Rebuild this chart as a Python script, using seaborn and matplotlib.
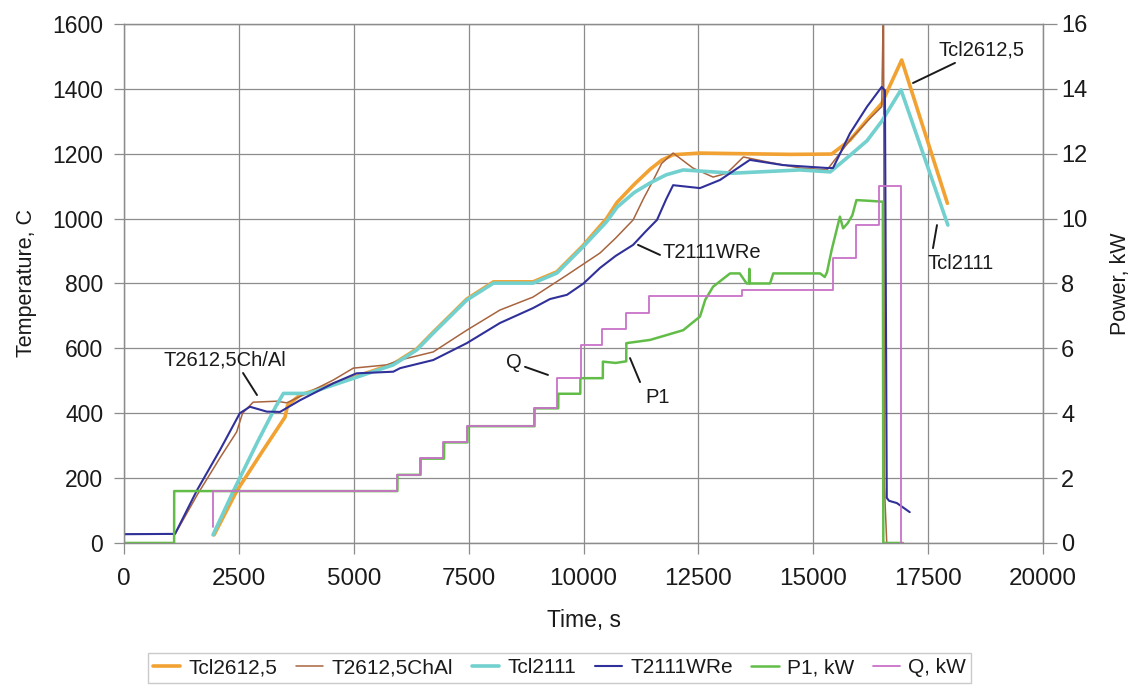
import matplotlib
matplotlib.use("Agg")
import matplotlib.pyplot as plt
import seaborn as sns

# ---- temperature series, time in s, temperature in C ----
t_tcl2612 = [1960, 2452, 3000, 3504, 3560, 3830, 4200, 5000, 5860, 6370, 6730, 7460, 8040,
             8900, 9420, 9990, 10500, 10730, 11100, 11450, 11700, 11950, 12535, 13500,
             14500, 15400, 15800, 16170, 16490, 16925, 17920]
T_tcl2612 = [25, 160, 280, 388, 425, 456, 473, 511, 552, 598, 650, 752, 805,
             805, 836, 917, 1000, 1050, 1105, 1152, 1180, 1197, 1202, 1200,
             1198, 1199, 1242, 1304, 1355, 1489, 1047]

t_t2612chal = [0, 1110, 1600, 2100, 2450, 2580, 2810, 3320, 3540, 3970, 4550, 4990, 5720,
               6006, 6730, 7460, 8180, 8900, 9640, 10000, 10360, 10700, 11080, 11300,
               11520, 11700, 11950, 12380, 12820, 13120, 13480, 13990, 14710, 15300,
               15800, 16240, 16490, 16530, 16548, 16600]
T_t2612chal = [27, 27, 150, 265, 342, 400, 434, 437, 432, 461, 502, 539, 549,
               564, 589, 656, 718, 758, 826, 860, 894, 940, 996, 1060,
               1119, 1170, 1202, 1156, 1128, 1140, 1190, 1175, 1156, 1150,
               1242, 1310, 1345, 1700, 175, 0]

t_tcl2111 = [1937, 2380, 2900, 3300, 3468, 3975, 4200, 5000, 5860, 6370, 6730, 7460, 8040,
             8900, 9420, 9990, 10500, 10730, 11100, 11450, 11800, 12170, 13250, 14710,
             15370, 15800, 16170, 16490, 16910, 17930]
T_tcl2111 = [25, 160, 310, 420, 461, 461, 470, 508, 549, 595, 647, 749, 801,
             801, 832, 913, 990, 1035, 1080, 1110, 1135, 1150, 1140, 1150,
             1144, 1195, 1240, 1300, 1397, 980]

t_t2111wre = [0, 1110, 1590, 2090, 2520, 2740, 3105, 3395, 3830, 4550, 5060, 5860, 6010,
              6730, 7460, 8180, 8900, 9270, 9640, 10000, 10360, 10700, 11080, 11350,
              11600, 11800, 11950, 12535, 12970, 13620, 14340, 15300, 15430, 15800,
              16170, 16490, 16560, 16600, 16650, 16820, 16950, 17100]
T_t2111wre = [27, 28, 163, 287, 400, 420, 405, 404, 440, 492, 523, 528, 539,
              564, 616, 678, 724, 752, 765, 800, 848, 885, 919, 960,
              996, 1060, 1103, 1094, 1119, 1181, 1165, 1156, 1156, 1263,
              1345, 1406, 1395, 139, 130, 123, 110, 95]

# ---- power series, kW ----
t_p1 = [0, 1090, 1092, 5950, 5952, 6455, 6457, 6965, 6967, 7475, 7477, 8935, 8937,
        9450, 9452, 9930, 9932, 10420, 10422, 10700, 10930, 10932, 11450, 12170,
        12535, 12650, 12820, 13000, 13190, 13400, 13550, 13600, 13610, 13620, 14060,
        14130, 15150, 15250, 15300, 15400, 15500, 15580, 15650, 15750, 15850, 15940,
        16200, 16515, 16525, 16950]
p1 = [0, 0, 1.6, 1.6, 2.1, 2.1, 2.6, 2.6, 3.1, 3.1, 3.6, 3.6, 4.15,
      4.15, 4.6, 4.6, 5.08, 5.08, 5.59, 5.55, 5.6, 6.16, 6.26, 6.56,
      6.98, 7.5, 7.9, 8.1, 8.31, 8.31, 8.0, 8.0, 8.45, 8.0, 8.0,
      8.31, 8.31, 8.2, 8.35, 9.03, 9.6, 10.06, 9.7, 9.86, 10.1, 10.57,
      10.55, 10.52, 0, 0]

t_q = [1930, 1935, 5935, 6440, 6950, 7460, 8920, 9430, 9950, 10410, 10920, 11430,
       13440, 15420, 15930, 16440, 16920, 16960]
q = [0.5, 1.6, 2.1, 2.62, 3.12, 3.62, 4.15, 5.08, 6.1, 6.6, 7.1, 7.6,
     7.8, 8.8, 9.8, 11.0, 0, 0]

x_ticks = [0, 2500, 5000, 7500, 10000, 12500, 15000, 17500, 20000]
temp_ticks = [0, 200, 400, 600, 800, 1000, 1200, 1400, 1600]
power_ticks = [0, 2, 4, 6, 8, 10, 12, 14, 16]

sns.set_theme(style="whitegrid")
plt.rcParams["font.family"] = ["Liberation Sans", "DejaVu Sans"]
plt.rcParams["text.color"] = "#1a1a1a"
plt.rcParams["axes.labelcolor"] = "#1a1a1a"
plt.rcParams["xtick.color"] = "#1a1a1a"
plt.rcParams["ytick.color"] = "#1a1a1a"

GRID = "#8c8c8c"
fig, ax = plt.subplots(figsize=(11.42, 6.93), dpi=100)
fig.subplots_adjust(left=0.1086, right=0.9133, top=0.9654, bottom=0.2165)

c_orange = "#F2A232"
c_brown = "#A8643E"
c_cyan = "#72D1CF"
c_blue = "#30309A"
c_green = "#62BD48"
c_purple = "#C872C8"

common = dict(estimator=None, sort=False, legend=False)
sns.lineplot(x=t_tcl2612, y=T_tcl2612, ax=ax, color=c_orange, lw=2.6, **common)
sns.lineplot(x=t_t2612chal, y=T_t2612chal, ax=ax, color=c_brown, lw=1.1, **common)
sns.lineplot(x=t_tcl2111, y=T_tcl2111, ax=ax, color=c_cyan, lw=2.6, **common)
sns.lineplot(x=t_t2111wre, y=T_t2111wre, ax=ax, color=c_blue, lw=1.5, **common)

ax2 = ax.twinx()
sns.lineplot(x=t_p1, y=p1, ax=ax2, color=c_green, lw=1.8, **common)
sns.lineplot(x=t_q, y=q, ax=ax2, color=c_purple, lw=1.3, drawstyle="steps-post", **common)

ax.set_xlim(0, 20000)
ax.set_ylim(0, 1600)
ax2.set_ylim(0, 16)
ax.set_xticks(x_ticks)
ax.set_xticklabels([str(v) for v in x_ticks])
ax.set_yticks(temp_ticks)
ax.set_yticklabels([str(v) for v in temp_ticks])
ax2.set_yticks(power_ticks)
ax2.set_yticklabels([str(v) for v in power_ticks])
ax2.grid(False)

ax.grid(True, color=GRID, lw=0.9)
for a in (ax, ax2):
    for s in a.spines.values():
        s.set_color(GRID)
        s.set_linewidth(0.9)
ax.tick_params(axis="x", bottom=True, length=8, width=0.9, color=GRID, pad=10, labelsize=17.5)
ax.tick_params(axis="y", left=True, length=7, width=0.9, color=GRID, pad=8, labelsize=16.5)
ax2.tick_params(axis="y", right=True, length=10, width=0.9, color=GRID, pad=3, labelsize=17)

ax.set_xlabel("Time, s", fontsize=16.5, labelpad=14)
ax.set_ylabel("Temperature, C", fontsize=15.5, labelpad=11)
ax2.set_ylabel("Power, kW", fontsize=15.5, labelpad=16)

# callout labels with leader lines
callouts = [
    ("T2612,5Ch/Al", (2200, 564), (2590, 524), (2894, 456)),
    ("Q", (8487, 555), (8727, 543), (9227, 518)),
    ("P1", (11621, 447), (11012, 570), (11230, 496)),
    ("T2111WRe", (12797, 897), (11186, 919), (11665, 888)),
    ("Tcl2612,5", (18672, 1520), (18085, 1480), (17171, 1418)),
    ("Tcl2111", (18215, 863), (17693, 980), (17606, 909)),
]
for label, txt_pos, start, end in callouts:
    ax.text(txt_pos[0], txt_pos[1], label, fontsize=14.5, ha="center", va="center",
            zorder=6)
    ax.annotate("", xy=end, xytext=start,
                arrowprops=dict(arrowstyle="-", color="#1a1a1a", lw=1.4,
                                shrinkA=0, shrinkB=0), zorder=6)

handles = ax.lines[:4] + ax2.lines[:2]
names = ["Tcl2612,5", "T2612,5ChAl", "Tcl2111", "T2111WRe", "P1, kW", "Q, kW"]
leg = fig.legend(handles, names, loc="lower center", bbox_to_anchor=(0.49, 0.0),
                 ncol=6, fontsize=15, frameon=True, fancybox=False,
                 handlelength=1.3, handletextpad=0.4, columnspacing=0.9,
                 borderpad=0.25, edgecolor="#bdbdbd")
leg.get_frame().set_linewidth(1.0)

fig.savefig("out.png", dpi=100, facecolor="white")
